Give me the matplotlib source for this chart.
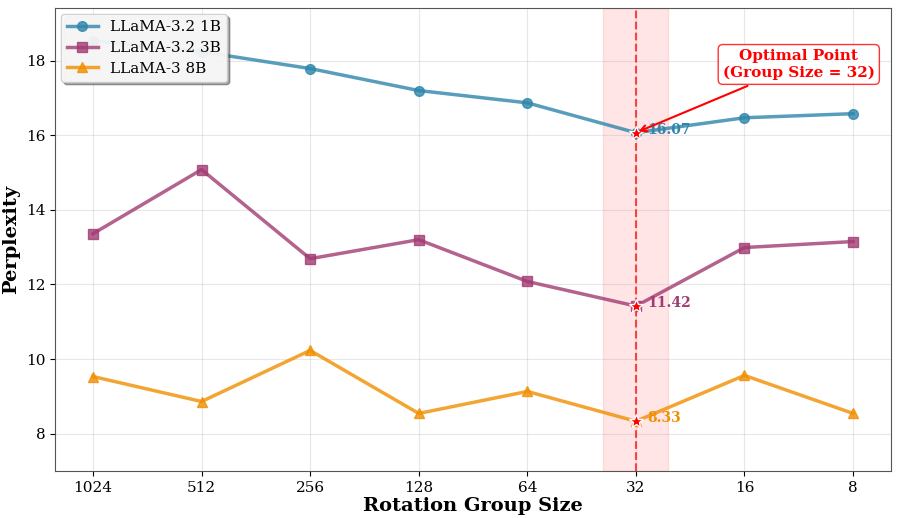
import matplotlib
matplotlib.use("Agg")
import matplotlib.pyplot as plt
import numpy as np

plt.rcParams['font.family'] = ['DejaVu Serif']

group_sizes = ["1024", "512", "256", "128", "64", "32", "16", "8"]
ppl_1b = [18.54, 18.24, 17.79, 17.20, 16.87, 16.07, 16.47, 16.58]
ppl_3b = [13.36, 15.08, 12.69, 13.20, 12.08, 11.42, 12.99, 13.15]
ppl_8b = [9.53, 8.86, 10.23, 8.54, 9.13, 8.33, 9.56, 8.54]
series_names = ["LLaMA-3.2 1B", "LLaMA-3.2 3B", "LLaMA-3 8B"]
colors = ["#2E86AB", "#A23B72", "#F18F01"]
markers = ["o", "s", "^"]
optimal_idx = 5

fig = plt.figure(figsize=(9.01, 5.18), dpi=100)
ax = fig.add_axes([0.061, 0.091, 0.928, 0.894])
x = np.arange(len(group_sizes))

for vals, name, c, m in zip([ppl_1b, ppl_3b, ppl_8b], series_names, colors, markers):
    ax.plot(x, vals, marker=m, color=c, label=name, linewidth=2.5, markersize=7, alpha=0.8, zorder=3)
    ax.plot(x[optimal_idx], vals[optimal_idx], marker='*', color='red', markersize=10,
            markeredgecolor='white', markeredgewidth=1.0, zorder=5, linestyle='none')
    ax.annotate(f"{vals[optimal_idx]:.2f}", xy=(x[optimal_idx], vals[optimal_idx]),
                xytext=(8, 2), textcoords='offset points', va='center', ha='left',
                fontsize=10, fontweight='bold', color=c, zorder=6)

ax.axvspan(optimal_idx - 0.3, optimal_idx + 0.3, color='red', alpha=0.1, zorder=1)
ax.axvline(optimal_idx, color='red', linestyle='--', linewidth=1.5, alpha=0.7, zorder=2)

ax.annotate("Optimal Point\n(Group Size = 32)", xy=(x[optimal_idx], ppl_1b[optimal_idx]),
            xytext=(6.5, 17.9), ha='center', va='center', fontsize=11, fontweight='bold',
            color='red',
            bbox=dict(boxstyle='round,pad=0.3', facecolor='white', edgecolor='red', alpha=0.8),
            arrowprops=dict(arrowstyle='->', color='red', lw=1.5), zorder=7)

ax.set_xticks(x)
ax.set_xticklabels(group_sizes)
ax.set_xlim(-0.35, 7.35)
ax.set_ylim(7.0, 19.42)
ax.set_yticks([8, 10, 12, 14, 16, 18])
ax.tick_params(labelsize=11)
ax.set_xlabel("Rotation Group Size", fontsize=14, fontweight='bold', labelpad=2)
ax.set_ylabel("Perplexity", fontsize=14, fontweight='bold')
ax.grid(True, alpha=0.3)
for s in ax.spines.values():
    s.set_color('#555555')

ax.legend(loc='upper left', fontsize=11, fancybox=True, shadow=True, framealpha=0.9,
          labelspacing=0.45, borderaxespad=0.4)

fig.savefig("out.png", dpi=100)
